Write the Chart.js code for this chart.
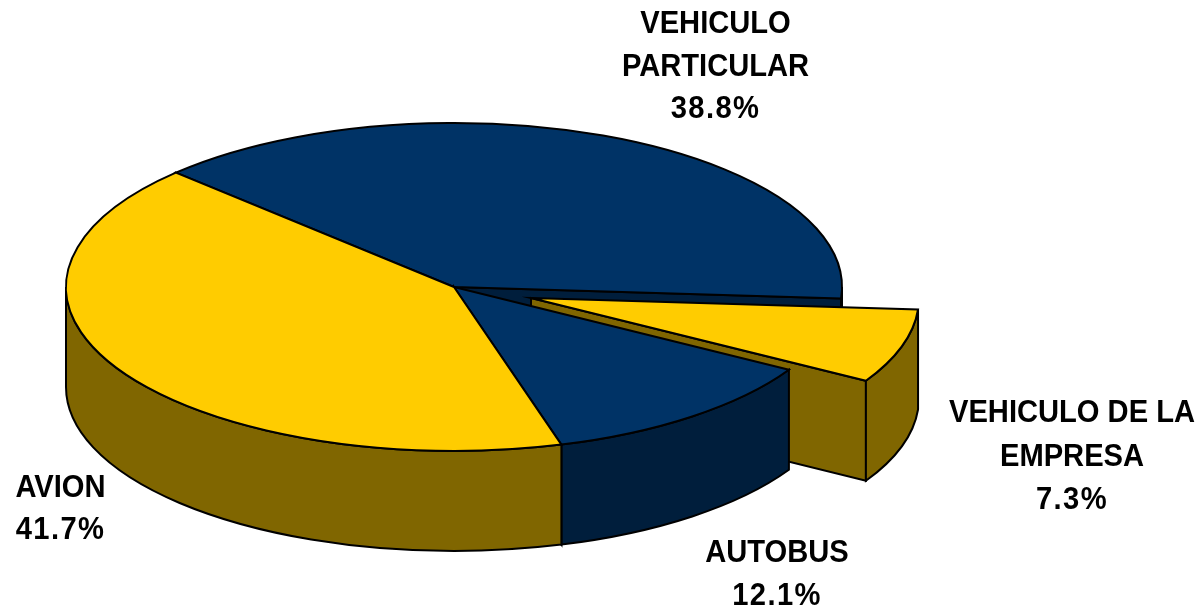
<!DOCTYPE html>
<html>
<head>
<meta charset="utf-8">
<title>Transporte</title>
<script src="https://cdn.jsdelivr.net/npm/chart.js@4"></script>
<style>
    html, body { margin: 0; padding: 0; background: #fff; }
    canvas { display: block; }
</style>
</head>
<body>
<canvas id="pieChart" width="1200" height="609"></canvas>
<script>
(function () {
    const labelLines = [['VEHICULO', 'PARTICULAR'], ['VEHICULO DE LA', 'EMPRESA'], ['AUTOBUS'], ['AVION']];
    const shares = [38.8, 7.3, 12.1, 41.7];
    const topColors = ['#003366', '#FFCC00', '#003366', '#FFCC00'];
    const wallColors = ['#001E3C', '#806600', '#001E3C', '#806600'];

    const SQUASH = 0.4227;   // ellipse height / width
    const DEPTH = 100;       // wall height
    const EXPLODED = 1;      // index of the slice pulled out
    const EXPLODE_X = 77;
    const EXPLODE_Y = 11;
    const LINE_W = 2;

    // where each text block sits: centre x, first baseline, line height
    const labelBlocks = [
        { x: 715.5, y: 33, lh: 42.5 },
        { x: 1072, y: 422, lh: 43.5 },
        { x: 777, y: 562, lh: 43 },
        { x: 60.5, y: 497, lh: 42 }
    ];

    function sectorPath(ctx, arc, ox, oy) {
        const ry = arc.outerRadius * SQUASH;
        ctx.beginPath();
        ctx.moveTo(arc.x + ox, arc.y + oy);
        ctx.ellipse(arc.x + ox, arc.y + oy, arc.outerRadius, ry, 0, arc.startAngle, arc.endAngle);
        ctx.closePath();
    }

    function fillStroke(ctx, color) {
        ctx.fillStyle = color;
        ctx.fill();
        ctx.stroke();
    }

    function rimPoint(arc, angle, ox, oy) {
        return {
            x: arc.x + ox + Math.cos(angle) * arc.outerRadius,
            y: arc.y + oy + Math.sin(angle) * arc.outerRadius * SQUASH
        };
    }

    // side wall along a radial edge, only when it faces the viewer
    function drawRadialWall(ctx, arc, angle, ox, oy, color) {
        const p = rimPoint(arc, angle, ox, oy);
        ctx.beginPath();
        ctx.moveTo(arc.x + ox, arc.y + oy);
        ctx.lineTo(p.x, p.y);
        ctx.lineTo(p.x, p.y + DEPTH);
        ctx.lineTo(arc.x + ox, arc.y + oy + DEPTH);
        ctx.closePath();
        fillStroke(ctx, color);
    }

    // outer wall, only the part of the rim on the front half of the ellipse
    function drawOuterWall(ctx, arc, ox, oy, color) {
        const ry = arc.outerRadius * SQUASH;
        const tau = Math.PI * 2;
        for (let k = -2; k <= 2; k++) {
            const lo = Math.max(arc.startAngle, k * tau);
            const hi = Math.min(arc.endAngle, k * tau + Math.PI);
            if (hi <= lo) continue;
            ctx.beginPath();
            ctx.ellipse(arc.x + ox, arc.y + oy, arc.outerRadius, ry, 0, lo, hi);
            ctx.ellipse(arc.x + ox, arc.y + oy + DEPTH, arc.outerRadius, ry, 0, hi, lo, true);
            ctx.closePath();
            fillStroke(ctx, color);
        }
    }

    function drawLine(ctx, text, x, y) {
        ctx.save();
        ctx.translate(x, y);
        ctx.scale(0.94, 1);
        ctx.fillText(text, 0, 0);
        ctx.restore();
    }

    const pie3d = {
        id: 'pie3d',
        beforeDatasetsDraw(chart) {
            const ctx = chart.ctx;
            const arcs = chart.getDatasetMeta(0).data;
            ctx.save();
            ctx.strokeStyle = '#000';
            ctx.lineWidth = LINE_W;
            ctx.lineJoin = 'miter';

            arcs.forEach((arc, i) => {
                const ox = i === EXPLODED ? EXPLODE_X : 0;
                const oy = i === EXPLODED ? EXPLODE_Y : 0;
                const a0 = arc.startAngle;
                const a1 = arc.endAngle;

                if (Math.sin(a0 - Math.PI / 2) > 0) drawRadialWall(ctx, arc, a0, ox, oy, wallColors[i]);
                if (Math.cos(a1) > 0) drawRadialWall(ctx, arc, a1, ox, oy, wallColors[i]);
                drawOuterWall(ctx, arc, ox, oy, wallColors[i]);

                // the top is the library's own arc, flattened
                ctx.save();
                ctx.translate(arc.x + ox, arc.y + oy);
                ctx.scale(1, SQUASH);
                ctx.translate(-arc.x, -arc.y);
                arc.draw(ctx);
                ctx.restore();

                sectorPath(ctx, arc, ox, oy);
                ctx.stroke();
            });
            ctx.restore();
            return false;
        },
        afterDraw(chart) {
            const ctx = chart.ctx;
            ctx.save();
            ctx.fillStyle = '#000';
            ctx.textAlign = 'center';
            ctx.textBaseline = 'alphabetic';
            ctx.font = 'bold 31px "Liberation Sans"';
            labelLines.forEach((lines, i) => {
                const b = labelBlocks[i];
                lines.forEach((line, n) => {
                    ctx.letterSpacing = '0px';
                    drawLine(ctx, line, b.x, b.y + n * b.lh);
                });
                ctx.letterSpacing = '1.5px';
                drawLine(ctx, shares[i].toFixed(1) + '%', b.x, b.y + lines.length * b.lh);
            });
            ctx.restore();
        }
    };

    new Chart(document.getElementById('pieChart').getContext('2d'), {
        type: 'pie',
        data: {
            labels: labelLines.map(l => l.join(' ')),
            datasets: [{
                data: shares,
                backgroundColor: topColors,
                borderWidth: 0
            }]
        },
        options: {
            responsive: false,
            animation: false,
            radius: 388,
            rotation: -45.8,
            layout: { padding: { right: 292, bottom: 35 } },
            plugins: {
                legend: { display: false },
                tooltip: { enabled: false }
            }
        },
        plugins: [pie3d]
    });
})();
</script>
</body>
</html>
